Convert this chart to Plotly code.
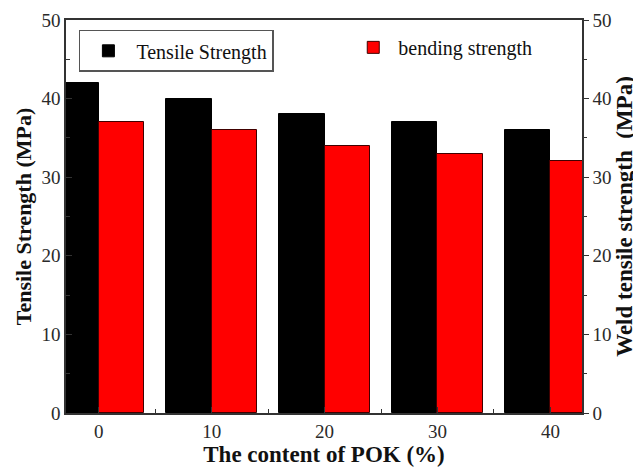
import plotly.graph_objects as go

pok_content = [0, 10, 20, 30, 40]
tensile_strength = [42, 40, 38, 37, 36]
bending_strength = [37, 36, 34, 33, 32]
x_ticks = [0, 10, 20, 30, 40]
y_ticks = [0, 10, 20, 30, 40, 50]

FONT = "Liberation Serif"
AX = "#333333"

fig = go.Figure()
fig.add_trace(go.Bar(
    x=pok_content, y=tensile_strength, name="Tensile Strength",
    width=4, offset=-4,
    marker=dict(color="black", line=dict(color="black", width=1)),
    legend="legend",
))
fig.add_trace(go.Bar(
    x=pok_content, y=bending_strength, name="bending strength",
    width=4, offset=0,
    marker=dict(color="#ff0000", line=dict(color="#400000", width=1)),
    yaxis="y2", legend="legend2",
))

fig.update_layout(
    width=633, height=466,
    margin=dict(l=58, r=59, t=12, b=61, autoexpand=False),
    paper_bgcolor="white", plot_bgcolor="white",
    font=dict(family=FONT, size=19, color="#2a2a2a"),
    barmode="overlay",
    bargap=0,
    showlegend=True,
    xaxis=dict(
        range=[-2.9, 42.8], tickvals=x_ticks, ticktext=[str(v) for v in x_ticks],
        ticks="inside", ticklen=6, tickcolor=AX,
        minor=dict(dtick=5, tick0=5, ticks="inside", ticklen=4, tickcolor=AX),
        showline=True, linecolor=AX, linewidth=1.5, mirror=True,
        showgrid=False, zeroline=False, automargin=False,
        ticklabeloverflow="allow",
        title=dict(text="<b>The content of POK (%)</b>", font=dict(size=23, color="#111111"), standoff=4),
    ),
    yaxis=dict(
        range=[0, 50], tickvals=y_ticks,
        ticks="inside", ticklen=6, tickcolor=AX,
        minor=dict(dtick=5, ticks="inside", ticklen=4, tickcolor=AX),
        showline=True, linecolor=AX, linewidth=1.5,
        showgrid=False, zeroline=False, automargin=False,
        ticklabeloverflow="allow",
        title=dict(text="<b>Tensile Strength (MPa)</b>", font=dict(size=22, color="#111111"), standoff=4),
    ),
    yaxis2=dict(
        range=[0, 50], tickvals=y_ticks, overlaying="y", side="right",
        ticks="outside", ticklen=5, tickcolor=AX,
        minor=dict(dtick=5, ticks="outside", ticklen=3, tickcolor=AX),
        showline=True, linecolor=AX, linewidth=1.5,
        showgrid=False, zeroline=False, automargin=False,
        ticklabeloverflow="allow",
        title=dict(text="<b>Weld tensile strength  (MPa)</b>", font=dict(size=23, color="#111111"), standoff=4),
    ),
    legend=dict(
        x=0.025, y=0.975, xanchor="left", yanchor="top",
        bgcolor="white", bordercolor="#555555", borderwidth=1.5,
        font=dict(size=20, family=FONT, color="#111111"), itemwidth=46,
    ),
    legend2=dict(
        x=0.547, y=0.98, xanchor="left", yanchor="top",
        bgcolor="rgba(0,0,0,0)", borderwidth=0,
        font=dict(size=20, family=FONT, color="#111111"), itemwidth=40,
    ),
)

fig.write_html("out.html")
